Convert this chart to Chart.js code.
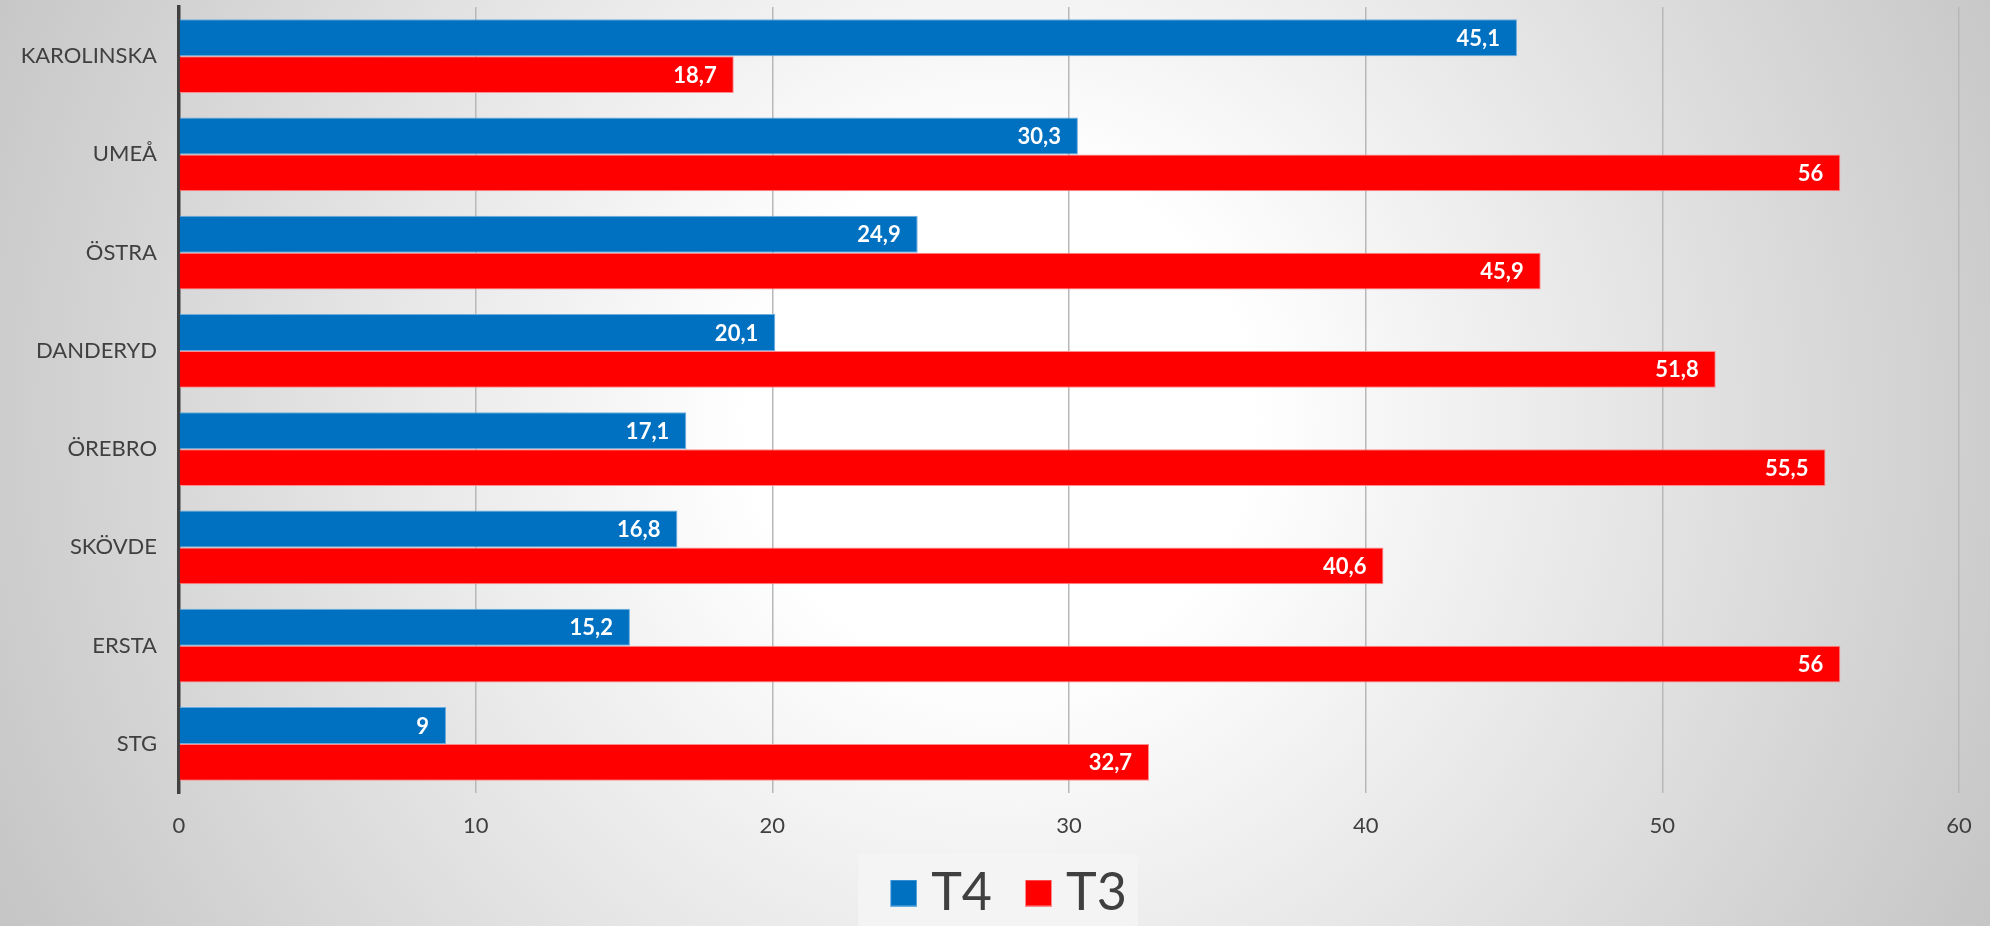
<!DOCTYPE html>
<html><head><meta charset="utf-8">
<script src="https://cdn.jsdelivr.net/npm/chart.js@4"></script>
<style>
html,body{margin:0;padding:0;}
body{width:1990px;height:926px;overflow:hidden;background:radial-gradient(circle 1100px at 1000px 420px,#ffffff 0px,#ffffff 250px,#c6c6c6 1100px);}
#wrap{position:relative;width:1990px;height:926px;}
canvas{display:block;}
</style></head><body>
<div id="wrap"><canvas id="c" width="1990" height="926"></canvas></div>
<script>
const categories = ['KAROLINSKA','UMEÅ','ÖSTRA','DANDERYD','ÖREBRO','SKÖVDE','ERSTA','STG'];
const seriesT4 = [45.1,30.3,24.9,20.1,17.1,16.8,15.2,9];
const seriesT3 = [18.7,56,45.9,51.8,55.5,40.6,56,32.7];
const seriesNames = ['T4','T3'];
const xTicks = [0,10,20,30,40,50,60];

const FONT = 'Lato, "Open Sans", sans-serif';
const TEXT = '#404040';
const COLORS = ['#0070C0', '#FF0000'];
const BORDERS = ['#6aaee0', '#ff8c8c'];

// legend swatch: 27px square placed at the right of a 52px-wide transparent canvas
function swatch(fill, stroke) {
  const c = document.createElement('canvas');
  c.width = 52; c.height = 27;
  const g = c.getContext('2d');
  g.fillStyle = stroke; g.fillRect(25, 0, 27, 27);
  g.fillStyle = fill; g.fillRect(26, 1, 25, 25);
  return c;
}
const swatches = COLORS.map((c, i) => swatch(c, BORDERS[i]));

const bgPlugin = {
  id: 'legendBack',
  beforeDraw(chart) {
    const lg = chart.legend;
    if (!lg || !lg.legendHitBoxes || !lg.legendHitBoxes.length) return;
    const hb = lg.legendHitBoxes;
    const first = hb[0], last = hb[hb.length - 1];
    const ctx = chart.ctx;
    ctx.save();
    ctx.fillStyle = 'rgba(244,244,244,0.85)';
    const x0 = first.left - 19, x1 = last.left + last.width + 11;
    const y0 = first.top + first.height / 2 - 39;
    ctx.fillRect(x0, y0, x1 - x0, chart.height - y0);
    ctx.restore();
  }
};

const labelPlugin = {
  id: 'valueLabels',
  afterDatasetsDraw(chart) {
    const ctx = chart.ctx;
    ctx.save();
    ctx.font = 'bold 22px ' + FONT;
    ctx.fillStyle = '#ffffff';
    ctx.textAlign = 'right';
    ctx.textBaseline = 'middle';
    chart.data.datasets.forEach((ds, di) => {
      const meta = chart.getDatasetMeta(di);
      meta.data.forEach((el, i) => {
        const txt = String(ds.data[i]).replace('.', ',');
        ctx.fillText(txt, el.x - 17, el.y + 1);
      });
    });
    ctx.restore();
  }
};

new Chart(document.getElementById('c'), {
  type: 'bar',
  data: {
    labels: categories,
    datasets: [
      { label: seriesNames[0], data: seriesT4, backgroundColor: COLORS[0], borderColor: BORDERS[0], borderWidth: 1, categoryPercentage: 0.75, barPercentage: 1.0 },
      { label: seriesNames[1], data: seriesT3, backgroundColor: COLORS[1], borderColor: BORDERS[1], borderWidth: 1, categoryPercentage: 0.75, barPercentage: 1.0 }
    ]
  },
  options: {
    indexAxis: 'y',
    responsive: false,
    animation: false,
    devicePixelRatio: 1,
    layout: { padding: { left: 14, right: 0, top: 7, bottom: -3 } },
    plugins: {
      tooltip: { enabled: false },
      legend: {
        position: 'bottom',
        labels: {
          font: { family: FONT, size: 52 },
          color: TEXT,
          usePointStyle: true,
          pointStyleWidth: 28,
          boxHeight: 27,
          padding: 20,
          generateLabels(chart) {
            const items = Chart.defaults.plugins.legend.labels.generateLabels(chart);
            items.forEach((it, i) => { it.pointStyle = swatches[i]; });
            return items;
          }
        }
      }
    },
    scales: {
      x: {
        type: 'linear',
        min: 0, max: 60,
        afterBuildTicks(scale) { scale.ticks = xTicks.map(v => ({ value: v })); },
        afterFit(scale) { scale.height = 54; scale.paddingRight = 31; },
        grid: { color: '#b8b8b8', lineWidth: 1.5, drawTicks: false },
        border: { display: false },
        ticks: { font: { family: FONT, size: 22 }, color: TEXT, padding: 20 }
      },
      y: {
        type: 'category',
        afterFit(scale) { scale.width = 165; scale.paddingTop = 0; scale.paddingBottom = 0; },
        grid: { display: false, drawTicks: false },
        border: { display: true, color: '#404040', width: 3.5 },
        ticks: { font: { family: FONT, size: 22 }, color: TEXT, padding: 22 }
      }
    }
  },
  plugins: [bgPlugin, labelPlugin]
});
</script>
</body></html>
